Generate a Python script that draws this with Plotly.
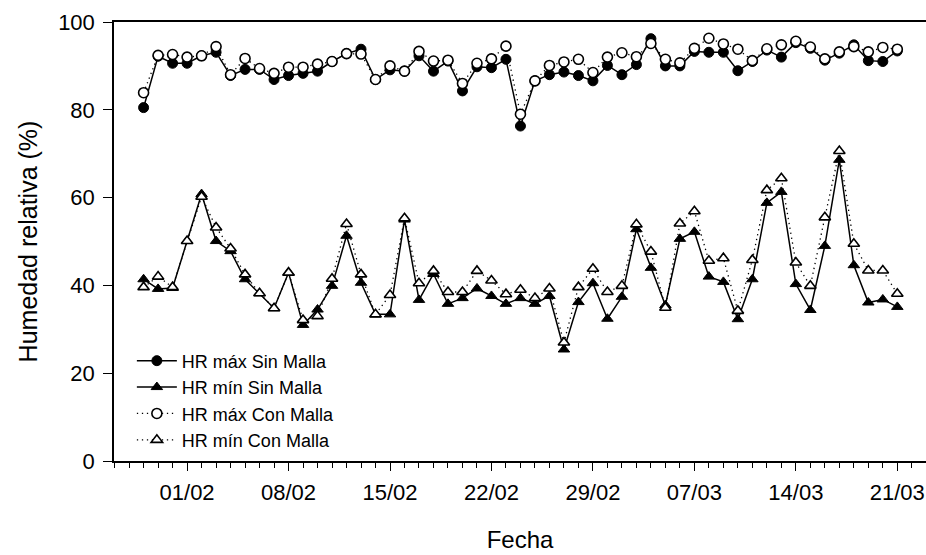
import pandas as pd
import plotly.graph_objects as go

fechas = pd.date_range("2012-01-29", "2012-03-21", freq="D")

hr_max_sin = [80.5, 92.2, 90.6, 90.6, 92.3, 93.1, 87.8, 89.2, 89.2, 86.9,
              87.8, 88.3, 88.8, 91.0, 92.8, 93.8, 86.9, 89.1, 88.8, 92.3,
              88.8, 91.1, 84.3, 89.8, 89.6, 91.5, 76.3, 86.6, 88.0, 88.6,
              87.8, 86.6, 90.1, 88.0, 90.3, 96.2, 90.0, 90.0, 93.3, 93.1,
              93.1, 88.9, 91.0, 93.6, 92.0, 95.3, 94.0, 91.3, 92.9, 94.8,
              91.2, 91.0, 93.4]

hr_max_con = [83.9, 92.4, 92.6, 92.0, 92.3, 94.4, 88.0, 91.7, 89.4, 88.3,
              89.7, 89.7, 90.4, 91.0, 92.8, 92.7, 86.9, 90.0, 88.8, 93.3,
              91.1, 91.3, 86.0, 90.6, 91.6, 94.5, 79.0, 86.6, 90.1, 90.9,
              91.5, 88.5, 92.0, 93.0, 92.1, 95.1, 91.5, 90.7, 94.0, 96.3,
              95.0, 93.8, 91.2, 93.9, 94.8, 95.6, 94.3, 91.6, 93.2, 94.4,
              93.2, 94.2, 93.8]

hr_min_sin = [41.4, 39.2, 39.4, 50.1, 60.8, 50.1, 47.8, 41.4, 38.2, 34.8,
              42.9, 31.0, 34.5, 39.9, 51.3, 40.6, 33.4, 33.4, 55.0, 36.7,
              42.6, 35.8, 37.1, 39.3, 37.6, 35.8, 37.1, 35.8, 37.6, 25.4,
              36.2, 40.5, 32.4, 37.4, 52.8, 44.0, 35.5, 50.6, 52.2, 42.0,
              40.8, 32.3, 41.4, 58.8, 61.3, 40.3, 34.4, 49.0, 68.6, 44.6,
              36.1, 36.8, 35.1]

hr_min_con = [39.6, 42.0, 39.6, 50.1, 60.2, 53.2, 48.4, 42.5, 38.2, 34.8,
              42.9, 32.1, 33.0, 41.5, 54.0, 42.5, 33.4, 37.8, 55.3, 40.5,
              43.3, 38.5, 38.5, 43.3, 41.1, 38.0, 39.0, 37.1, 39.3, 27.0,
              39.6, 43.8, 38.5, 39.9, 53.9, 47.7, 34.9, 54.1, 56.9, 45.6,
              46.2, 34.2, 45.8, 61.7, 64.4, 45.2, 39.9, 55.5, 70.6, 49.5,
              43.4, 43.4, 38.1]

y_ticks = [0, 20, 40, 60, 80, 100]

FONT = "Arial, Liberation Sans, sans-serif"
DOTS = "1.3px,3.7px"

fig = go.Figure()
fig.add_trace(go.Scatter(
    x=fechas, y=hr_max_sin, name="HR máx Sin Malla", mode="lines+markers",
    line=dict(color="black", width=1.5),
    marker=dict(symbol="circle", size=10, color="black",
                line=dict(color="black", width=1))))
fig.add_trace(go.Scatter(
    x=fechas, y=hr_min_sin, name="HR mín Sin Malla", mode="lines+markers",
    line=dict(color="black", width=1.5),
    marker=dict(symbol="triangle-up", size=10, color="black",
                line=dict(color="black", width=1))))
fig.add_trace(go.Scatter(
    x=fechas, y=hr_max_con, name="HR máx Con Malla", mode="lines+markers",
    line=dict(color="black", width=1.3, dash=DOTS),
    marker=dict(symbol="circle", size=10, color="white",
                line=dict(color="black", width=1.6))))
fig.add_trace(go.Scatter(
    x=fechas, y=hr_min_con, name="HR mín Con Malla", mode="lines+markers",
    line=dict(color="black", width=1.3, dash=DOTS),
    marker=dict(symbol="triangle-up", size=10, color="white",
                line=dict(color="black", width=1.6))))

fig.update_layout(
    width=926, height=555,
    margin=dict(l=114, r=0, t=22, b=94),
    paper_bgcolor="white", plot_bgcolor="white",
    font=dict(family=FONT, color="black", size=20),
    showlegend=True,
    legend=dict(x=0.022, y=0.270, xanchor="left", yanchor="top",
                bgcolor="rgba(0,0,0,0)", font=dict(size=18, family=FONT),
                tracegroupgap=0, itemwidth=40),
    xaxis=dict(
        range=["2012-01-26 23:00", "2012-03-22 23:30"],
        tick0="2012-02-01", dtick=7 * 86400000, tickformat="%d/%m",
        ticks="outside", ticklen=8, tickwidth=1.3, tickcolor="black",
        showline=True, linecolor="black", linewidth=1.5, mirror=True,
        showgrid=False, zeroline=False, automargin=False,
        tickfont=dict(size=22, family=FONT),
        ticklabelstandoff=3,
        minor=dict(dtick=86400000, tick0="2012-02-01", ticks="outside",
                   ticklen=5, tickwidth=1.2, tickcolor="black", showgrid=False),
        title=dict(text="Fecha", font=dict(size=24, family=FONT), standoff=27),
    ),
    yaxis=dict(
        range=[0, 100], tickvals=y_ticks,
        ticks="outside", ticklen=9, tickwidth=1.3, tickcolor="black",
        showline=True, linecolor="black", linewidth=1.5, mirror=False,
        showgrid=False, zeroline=False, automargin=False,
        tickfont=dict(size=22, family=FONT),
        ticklabelstandoff=4,
        title=dict(text="Humedad relativa (%)", font=dict(size=25, family=FONT),
                   standoff=13),
    ),
)

fig.write_html("out.html", config={"displayModeBar": False},
               post_script="document.body.style.margin='0';")
